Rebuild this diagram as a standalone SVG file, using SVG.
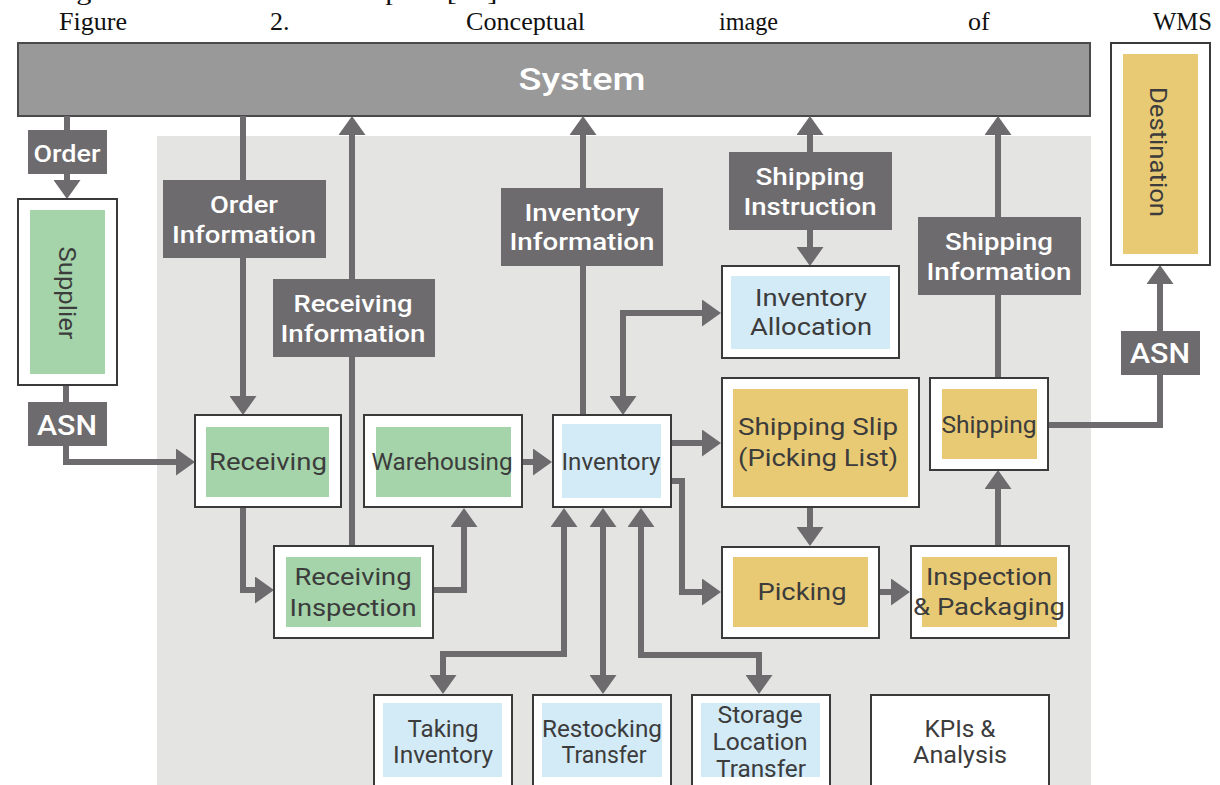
<svg xmlns="http://www.w3.org/2000/svg" width="1220" height="785" viewBox="0 0 1220 785">
<defs>
<style>
.cap{font-family:"Liberation Serif","Times New Roman",serif;font-size:26px;fill:#111}
.ln{fill:none;stroke:#6d6b6e;stroke-width:6;stroke-linejoin:miter}
.lbl rect{fill:#6d6b6e}
.lbl text{fill:#fff;font-family:Roboto,"Noto Sans",sans-serif;font-size:24px;font-weight:500;text-anchor:middle}
.ob{fill:#fff;stroke:#3a3a3a;stroke-width:2}
.g{fill:#a5d4aa}.y{fill:#e9ca74}.b{fill:#d3eaf7}
.bt{fill:#3c3c3c;font-family:Roboto,"Noto Sans",sans-serif;font-size:24px;text-anchor:middle}
</style>
<marker id="a" viewBox="0 0 19 27" markerWidth="19" markerHeight="27" markerUnits="userSpaceOnUse" refX="14" refY="13.5" orient="auto-start-reverse"><path d="M0,0 L19,13.5 L0,27 z" fill="#6d6b6e"/></marker>
</defs>
<rect width="1220" height="785" fill="#fff"/>
<text class="cap" x="0" y="0" textLength="505" lengthAdjust="spacingAndGlyphs">and organization selection of capital [38].</text>
<g id="caption" class="cap">
<text x="59" y="30" textLength="68" lengthAdjust="spacingAndGlyphs">Figure</text>
<text x="270" y="30">2.</text>
<text x="466" y="30" textLength="119" lengthAdjust="spacingAndGlyphs">Conceptual</text>
<text x="719" y="30" textLength="59" lengthAdjust="spacingAndGlyphs">image</text>
<text x="968" y="30">of</text>
<text x="1153" y="30" textLength="59" lengthAdjust="spacingAndGlyphs">WMS</text>
</g>
<rect id="area" x="157" y="136" width="934" height="660" fill="#e4e4e3"/>
<g id="system">
<rect x="18" y="43" width="1072" height="73" fill="#999" stroke="#4a4a4a" stroke-width="2"/>
<text x="582" y="90" textLength="127" lengthAdjust="spacingAndGlyphs" style="fill:#fff;font-family:Roboto,'Noto Sans',sans-serif;font-size:32px;font-weight:500;text-anchor:middle">System</text>
</g>
<g id="connectors">
<path class="ln" d="M67,116 V194" marker-end="url(#a)"/>
<path class="ln" d="M243,116 V410" marker-end="url(#a)"/>
<path class="ln" d="M352,546 V121" marker-end="url(#a)"/>
<path class="ln" d="M583,416 V121" marker-end="url(#a)"/>
<path class="ln" d="M810,121 V261" marker-start="url(#a)" marker-end="url(#a)"/>
<path class="ln" d="M998,378 V121" marker-end="url(#a)"/>
<path class="ln" d="M66,385 V462 H190" marker-end="url(#a)"/>
<path class="ln" d="M243,507 V590 H269" marker-end="url(#a)"/>
<path class="ln" d="M433,590 H464 V513" marker-end="url(#a)"/>
<path class="ln" d="M522,462 H547" marker-end="url(#a)"/>
<path class="ln" d="M623,410 V313 H716" marker-start="url(#a)" marker-end="url(#a)"/>
<path class="ln" d="M671,443 H716" marker-end="url(#a)"/>
<path class="ln" d="M671,481 H682 V592 H716" marker-end="url(#a)"/>
<path class="ln" d="M810,507 V541" marker-end="url(#a)"/>
<path class="ln" d="M879,592 H905" marker-end="url(#a)"/>
<path class="ln" d="M998,546 V475" marker-end="url(#a)"/>
<path class="ln" d="M1048,425 H1160 V270" marker-end="url(#a)"/>
<path class="ln" d="M564,513 V654 H443 V689" marker-start="url(#a)" marker-end="url(#a)"/>
<path class="ln" d="M603,513 V689" marker-start="url(#a)" marker-end="url(#a)"/>
<path class="ln" d="M641,513 V655 H759 V689" marker-start="url(#a)" marker-end="url(#a)"/>
</g>
<g id="lbl-order" class="lbl"><rect x="28" y="130" width="79" height="44"/><text x="67" y="162" textLength="67" lengthAdjust="spacingAndGlyphs">Order</text></g>
<g id="lbl-asn1" class="lbl"><rect x="28" y="402" width="79" height="44"/><text x="67" y="435" textLength="60" lengthAdjust="spacingAndGlyphs" style="font-size:28px">ASN</text></g>
<g id="lbl-asn2" class="lbl"><rect x="1121" y="331" width="79" height="44"/><text x="1160" y="363" textLength="60" lengthAdjust="spacingAndGlyphs" style="font-size:28px">ASN</text></g>
<g id="lbl-orderinfo" class="lbl"><rect x="163" y="180" width="163" height="78"/><text x="244" y="213" textLength="68" lengthAdjust="spacingAndGlyphs">Order</text><text x="244" y="243" textLength="144" lengthAdjust="spacingAndGlyphs">Information</text></g>
<g id="lbl-recvinfo" class="lbl"><rect x="273" y="279" width="162" height="78"/><text x="353" y="312" textLength="119" lengthAdjust="spacingAndGlyphs">Receiving</text><text x="353" y="342" textLength="145" lengthAdjust="spacingAndGlyphs">Information</text></g>
<g id="lbl-invinfo" class="lbl"><rect x="501" y="188" width="162" height="78"/><text x="582" y="221" textLength="115" lengthAdjust="spacingAndGlyphs">Inventory</text><text x="582" y="250" textLength="145" lengthAdjust="spacingAndGlyphs">Information</text></g>
<g id="lbl-shipinstr" class="lbl"><rect x="729" y="152" width="163" height="78"/><text x="810" y="185" textLength="109" lengthAdjust="spacingAndGlyphs">Shipping</text><text x="810" y="215" textLength="133" lengthAdjust="spacingAndGlyphs">Instruction</text></g>
<g id="lbl-shipinfo" class="lbl"><rect x="918" y="217" width="163" height="78"/><text x="999" y="250" textLength="108" lengthAdjust="spacingAndGlyphs">Shipping</text><text x="999" y="280" textLength="145" lengthAdjust="spacingAndGlyphs">Information</text></g>
<g id="supplier"><rect class="ob" x="18" y="199" width="99" height="186"/><rect class="g" x="30" y="210" width="75" height="164"/><text class="bt" transform="translate(68,293) rotate(90)" x="0" y="9" textLength="93" lengthAdjust="spacingAndGlyphs">Supplier</text></g>
<g id="destination"><rect class="ob" x="1111" y="43" width="99" height="222"/><rect class="y" x="1123" y="54" width="75" height="200"/><text class="bt" transform="translate(1159,152) rotate(90)" x="0" y="9" textLength="130" lengthAdjust="spacingAndGlyphs">Destination</text></g>
<g id="receiving"><rect class="ob" x="195" y="415" width="146" height="92"/><rect class="g" x="206" y="427" width="123" height="70"/><text class="bt" x="268" y="470" textLength="118" lengthAdjust="spacingAndGlyphs">Receiving</text></g>
<g id="warehousing"><rect class="ob" x="364" y="415" width="158" height="92"/><rect class="g" x="376" y="427" width="135" height="70"/><text class="bt" x="442" y="470" textLength="141" lengthAdjust="spacingAndGlyphs">Warehousing</text></g>
<g id="inventory"><rect class="ob" x="553" y="415" width="118" height="92"/><rect class="b" x="562" y="424" width="99" height="74"/><text class="bt" x="611" y="470" textLength="99" lengthAdjust="spacingAndGlyphs">Inventory</text></g>
<g id="recv-inspection"><rect class="ob" x="274" y="546" width="159" height="92"/><rect class="g" x="286" y="557" width="135" height="70"/><text class="bt" x="353" y="585" textLength="117" lengthAdjust="spacingAndGlyphs">Receiving</text><text class="bt" x="353" y="616" textLength="127" lengthAdjust="spacingAndGlyphs">Inspection</text></g>
<g id="allocation"><rect class="ob" x="722" y="266" width="177" height="92"/><rect class="b" x="731" y="276" width="159" height="73"/><text class="bt" x="811" y="306" textLength="112" lengthAdjust="spacingAndGlyphs">Inventory</text><text class="bt" x="811" y="335" textLength="122" lengthAdjust="spacingAndGlyphs">Allocation</text></g>
<g id="shipping-slip"><rect class="ob" x="722" y="378" width="197" height="129"/><rect class="y" x="733" y="389" width="175" height="108"/><text class="bt" x="818" y="435" textLength="160" lengthAdjust="spacingAndGlyphs">Shipping Slip</text><text class="bt" x="818" y="466" textLength="160" lengthAdjust="spacingAndGlyphs">(Picking List)</text></g>
<g id="shipping"><rect class="ob" x="930" y="378" width="118" height="92"/><rect class="y" x="942" y="389" width="95" height="70"/><text class="bt" x="989" y="433" textLength="95" lengthAdjust="spacingAndGlyphs">Shipping</text></g>
<g id="picking"><rect class="ob" x="722" y="547" width="157" height="91"/><rect class="y" x="733" y="557" width="135" height="70"/><text class="bt" x="802" y="600" textLength="89" lengthAdjust="spacingAndGlyphs">Picking</text></g>
<g id="inspection-packaging"><rect class="ob" x="911" y="546" width="158" height="92"/><rect class="y" x="922" y="557" width="135" height="70"/><text class="bt" x="989" y="585" textLength="126" lengthAdjust="spacingAndGlyphs">Inspection</text><text class="bt" x="989" y="615" textLength="152" lengthAdjust="spacingAndGlyphs">&amp; Packaging</text></g>
<g id="taking-inventory"><rect class="ob" x="374" y="695" width="138" height="100"/><rect class="b" x="383" y="703" width="119" height="74"/><text class="bt" x="443" y="737" textLength="71" lengthAdjust="spacingAndGlyphs">Taking</text><text class="bt" x="443" y="763" textLength="100" lengthAdjust="spacingAndGlyphs">Inventory</text></g>
<g id="restocking"><rect class="ob" x="533" y="695" width="138" height="100"/><rect class="b" x="542" y="703" width="120" height="74"/><text class="bt" x="602" y="737" textLength="120" lengthAdjust="spacingAndGlyphs">Restocking</text><text class="bt" x="604" y="763" textLength="85" lengthAdjust="spacingAndGlyphs">Transfer</text></g>
<g id="storage-transfer"><rect class="ob" x="692" y="695" width="138" height="100"/><rect class="b" x="701" y="703" width="119" height="74"/><text class="bt" x="760" y="723" textLength="85" lengthAdjust="spacingAndGlyphs">Storage</text><text class="bt" x="760" y="750" textLength="95" lengthAdjust="spacingAndGlyphs">Location</text><text class="bt" x="761" y="777" textLength="90" lengthAdjust="spacingAndGlyphs">Transfer</text></g>
<g id="kpis"><rect class="ob" x="871" y="695" width="178" height="100"/><text class="bt" x="960" y="737" textLength="71" lengthAdjust="spacingAndGlyphs">KPIs &amp;</text><text class="bt" x="960" y="763" textLength="94" lengthAdjust="spacingAndGlyphs">Analysis</text></g>
</svg>
